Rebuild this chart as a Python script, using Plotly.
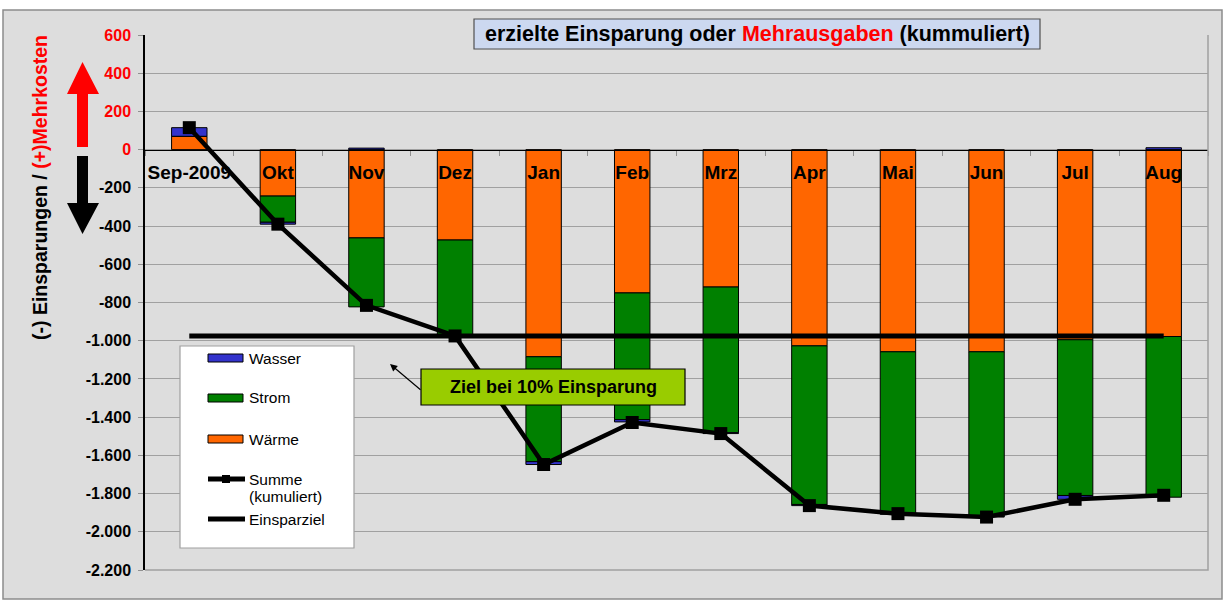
import plotly.graph_objects as go

# ---------------- data ----------------
months = ["Sep-2009", "Okt", "Nov", "Dez", "Jan", "Feb", "Mrz", "Apr", "Mai", "Jun", "Jul", "Aug"]
waerme = [70, -243, -462, -473, -1084, -750, -719, -1027, -1058, -1058, -995, -978]
strom = [0, -137, -361, -497, -549, -663, -762, -830, -847, -862, -815, -841]
wasser = [45, -10, 8, -5, -15, -12, -5, -6, -3, -3, -20, 10]
summe = [115, -390, -815, -975, -1648, -1428, -1486, -1863, -1905, -1923, -1830, -1809]
einsparziel = [-975, -975, -975, -975, -975, -975, -975, -975, -975, -975, -975, -975]
y_ticks = [600, 400, 200, 0, -200, -400, -600, -800, -1000, -1200, -1400, -1600, -1800, -2000, -2200]

# ---------------- layout geometry ----------------
W, H = 1223, 600
L, R, T, B = 145, 15, 35, 30
PW, PH = W - L - R, H - T - B


def fx(px):
    return (px - L) / PW


def fy(py):
    return (H - B - py) / PH


FONT = "Liberation Sans, Arial, sans-serif"
C_WASSER = "#3333CC"
C_STROM = "#008000"
C_WAERME = "#FF6600"

fig = go.Figure()
fig.add_bar(x=months, y=waerme, name="Wärme", marker=dict(color=C_WAERME, line=dict(color="black", width=1)), showlegend=False)
fig.add_bar(x=months, y=strom, name="Strom", marker=dict(color=C_STROM, line=dict(color="black", width=1)), showlegend=False)
fig.add_bar(x=months, y=wasser, name="Wasser", marker=dict(color=C_WASSER, line=dict(color="black", width=1)), showlegend=False)
fig.add_scatter(x=months, y=einsparziel, name="Einsparziel", mode="lines",
                line=dict(color="black", width=5), showlegend=False)
fig.add_scatter(x=months, y=summe, name="Summe (kumuliert)", mode="lines+markers",
                line=dict(color="black", width=4.5),
                marker=dict(symbol="square", size=13, color="black"), showlegend=False)


def tick_label(v):
    s = f"{v:,}".replace(",", ".")
    if v >= 0:
        return f"<span style='color:#FF0000'>{s}</span>"
    return s


shapes = []
annotations = []

# chart area background
shapes.append(dict(type="rect", xref="paper", yref="paper", layer="below",
                   x0=fx(3), x1=fx(1222), y0=fy(599), y1=fy(10),
                   fillcolor="#DDDDDD", line=dict(color="#8C8C8C", width=1.5)))
# plot area border (right/bottom)
shapes.append(dict(type="path", xref="paper", yref="paper", layer="above",
                   path="M 0 0 L 1 0 L 1 1", line=dict(color="#A0A0A0", width=1.5)))

# arrows (pixel-sized, anchored at plot top-left)
red_arrow = [(77, 147), (77, 94), (67, 94), (82.5, 62), (99, 94), (88, 94), (88, 147)]
blk_arrow = [(77, 156), (88, 156), (88, 203), (99, 203), (82.5, 234), (67, 203), (77, 203)]


def arrow_path(pts):
    return "M " + " L ".join(f"{px - L} {T - py}" for px, py in pts) + " Z"


for pts, col in [(red_arrow, "#FF0000"), (blk_arrow, "black")]:
    shapes.append(dict(type="path", xref="paper", yref="paper", xsizemode="pixel", ysizemode="pixel",
                       xanchor=0, yanchor=1, path=arrow_path(pts), fillcolor=col,
                       line=dict(color=col, width=0), layer="above"))

# title box
shapes.append(dict(type="rect", xref="paper", yref="paper", layer="above",
                   x0=fx(474), x1=fx(1040), y0=fy(49), y1=fy(19),
                   fillcolor="#CCD8F0", line=dict(color="#505050", width=1.2)))
annotations.append(dict(xref="paper", yref="paper", x=fx(757), y=fy(34), showarrow=False,
                        text="<b>erzielte Einsparung oder <span style='color:#FF0000'>Mehrausgaben</span> (kummuliert)</b>",
                        font=dict(family=FONT, size=21.5, color="black"), xanchor="center", yanchor="middle"))

# y axis title
annotations.append(dict(xref="paper", yref="paper", x=fx(40), y=fy(188), showarrow=False, textangle=-90,
                        text="<b>(-) Einsparungen / <span style='color:#FF0000'>(+)Mehrkosten</span></b>",
                        font=dict(family=FONT, size=19.5, color="black"), xanchor="center", yanchor="middle"))

# goal annotation box
shapes.append(dict(type="rect", xref="paper", yref="paper", layer="above",
                   x0=fx(421), x1=fx(685), y0=fy(405), y1=fy(369),
                   fillcolor="#99CC00", line=dict(color="black", width=1.2)))
annotations.append(dict(xref="paper", yref="paper", x=fx(553), y=fy(387), showarrow=False,
                        text="<b>Ziel bei 10% Einsparung</b>",
                        font=dict(family=FONT, size=18, color="black"), xanchor="center", yanchor="middle"))
annotations.append(dict(xref="paper", yref="paper", x=fx(390), y=fy(364), showarrow=True, text="",
                        ax=32, ay=27, axref="pixel", ayref="pixel", arrowhead=2, arrowsize=1.2,
                        arrowwidth=1.2, arrowcolor="black"))

# manual legend
LEG_FONT = dict(family=FONT, size=15.5, color="black")
shapes.append(dict(type="rect", xref="paper", yref="paper", layer="above",
                   x0=fx(180), x1=fx(354), y0=fy(548), y1=fy(346),
                   fillcolor="white", line=dict(color="#A0A0A0", width=1.2)))
for name, col, yc in [("Wasser", C_WASSER, 358), ("Strom", C_STROM, 398), ("Wärme", C_WAERME, 439)]:
    shapes.append(dict(type="rect", xref="paper", yref="paper", layer="above",
                       x0=fx(208), x1=fx(243), y0=fy(yc + 4), y1=fy(yc - 4),
                       fillcolor=col, line=dict(color="black", width=1)))
    annotations.append(dict(xref="paper", yref="paper", x=fx(247), y=fy(yc), showarrow=False, text=name,
                            font=LEG_FONT, xanchor="left", yanchor="middle"))
for yc in [479, 519]:
    shapes.append(dict(type="line", xref="paper", yref="paper", layer="above",
                       x0=fx(208), x1=fx(245), y0=fy(yc), y1=fy(yc),
                       line=dict(color="black", width=5)))
shapes.append(dict(type="rect", xref="paper", yref="paper", layer="above",
                   x0=fx(222), x1=fx(230), y0=fy(483), y1=fy(475),
                   fillcolor="black", line=dict(color="black", width=0)))
annotations.append(dict(xref="paper", yref="paper", x=fx(247), y=fy(479), showarrow=False, text="Summe",
                        font=LEG_FONT, xanchor="left", yanchor="middle"))
annotations.append(dict(xref="paper", yref="paper", x=fx(247), y=fy(496), showarrow=False, text="(kumuliert)",
                        font=LEG_FONT, xanchor="left", yanchor="middle"))
annotations.append(dict(xref="paper", yref="paper", x=fx(247), y=fy(519), showarrow=False, text="Einsparziel",
                        font=LEG_FONT, xanchor="left", yanchor="middle"))

y_min, y_max = y_ticks[-1], y_ticks[0]

fig.update_layout(
    width=W, height=H,
    margin=dict(l=L, r=R, t=T, b=B),
    paper_bgcolor="white",
    plot_bgcolor="#DDDDDD",
    barmode="relative",
    bargap=0.6,
    showlegend=False,
    font=dict(family=FONT, color="black"),
    shapes=shapes,
    annotations=annotations,
    xaxis=dict(
        type="category", range=[-0.5, 11.5], anchor="free",
        position=(0 - y_min) / (y_max - y_min),
        showline=True, linecolor="black", linewidth=1.2,
        ticks="outside", tickson="boundaries", ticklen=5, tickcolor="#909090",
        tickfont=dict(family=FONT, size=19, color="black", weight="bold"),
        tickangle=0,
        ticklabelstandoff=5,
        showgrid=False, zeroline=False,
    ),
    yaxis=dict(
        range=[y_min, y_max], tickvals=y_ticks, ticktext=[tick_label(v) for v in y_ticks],
        showline=True, linecolor="black", linewidth=1.5,
        ticks="outside", ticklen=5, tickcolor="#909090",
        tickfont=dict(family=FONT, size=16, color="black", weight="bold"),
        ticklabelstandoff=4,
        showgrid=True, gridcolor="#A0A0A0", gridwidth=1,
        zeroline=False,
    ),
)

fig.write_html("out.html", config={"displayModeBar": False},
               post_script="document.body.style.margin='0';document.body.style.padding='0';")
